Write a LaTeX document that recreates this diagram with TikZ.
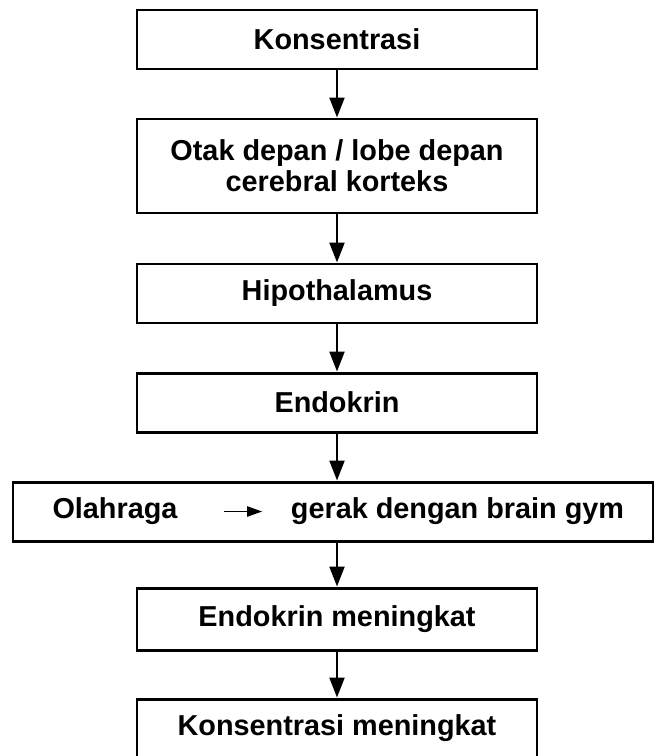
\documentclass[tikz,border=0pt]{standalone}
\usepackage{fontspec}
\setmainfont{Liberation Sans}
\usetikzlibrary{arrows.meta,positioning}

\begin{document}
\begin{tikzpicture}[>={Triangle[length=.4cm,width=.3cm]},font=\fontsize{16.4}{17.8}\selectfont\bfseries,
 box/.style={draw,line width=1.7pt,minimum width=8cm,minimum height=1.18cm,align=center,inner sep=0pt},
 flow/.style={->,line width=1.3pt}]
\useasboundingbox (0,0) rectangle (13.1,-15.12);
\node[box] (konsen) at (6.74,-0.79) {Konsentrasi};
\node[box,minimum height=1.88cm] (otak) at (6.74,-3.32) {Otak depan / lobe depan\\cerebral korteks};
\node[box] (hipo) at (6.74,-5.87) {Hipothalamus};
\node[box] (endo) at (6.74,-8.05) {Endokrin};
\node[box,minimum width=12.8cm] (olah) at (6.66,-10.23) {};
\node (olahtxt) at (2.3,-10.23) {Olahraga};
\node (gerak) at (9.15,-10.23) {gerak dengan brain gym};
\node[box,minimum height=1.24cm] (endonaik) at (6.74,-12.38) {Endokrin meningkat};
\node[box] (konsnaik) at (6.74,-14.57) {Konsentrasi meningkat};
\draw[flow] (konsen)--(otak);
\draw[flow] (otak)--(hipo);
\draw[flow] (hipo)--(endo);
\draw[flow] (endo)--(olah.north-|endo);
\draw[flow] (olah.south-|endonaik)--(endonaik);
\draw[flow] (endonaik)--(konsnaik);
\draw[->,line width=1.1pt,>={Triangle[length=.3cm,width=.2cm]},shorten <=.8cm,shorten >=.45cm] (olahtxt)--(gerak);
\end{tikzpicture}
\end{document}
